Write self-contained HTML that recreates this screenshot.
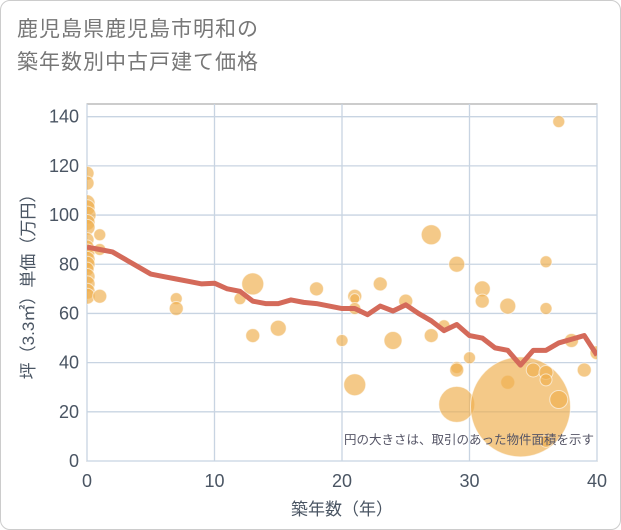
<!DOCTYPE html>
<html><head><meta charset="utf-8"><style>
body{margin:0;background:#fff;}
#wrap{position:relative;width:619px;height:528px;border:1px solid #ccc;border-radius:10px;overflow:hidden;font-family:"Liberation Sans","Noto Sans CJK JP",sans-serif;}
#title{position:absolute;left:16px;top:12px;font-size:21px;line-height:33px;color:#777;letter-spacing:1px;}
svg{position:absolute;left:0;top:0;}
</style></head><body>
<div id="wrap">
<div id="title">鹿児島県鹿児島市明和の<br>築年数別中古戸建て価格</div>
<svg id="chart" width="621" height="530"></svg>
</div>
<script>
const xTicks=[0,10,20,30,40];
const yTicks=[0,20,40,60,80,100,120,140];
const lineAges=[0,1,2,3,4,5,6,7,8,9,10,11,12,13,14,15,16,17,18,19,20,21,22,23,24,25,26,27,28,29,30,31,32,33,34,35,36,37,38,39,40];
const lineValues=[87,86,85,82,79,76,75,74,73,72,72.3,70,69,65,64,64,65.5,64.5,64,63,62,62,59.5,63,61,63.5,60,57,53,55.5,51,50,46,45,39,45,45,48,49.5,51,43];
const bubbleAges=[0,0,0,0,0,0,0,0,0,0,0,0,0,0,0,0,0,1,1,1,7,7,12,13,13,15,18,20,21,21,21,21,23,24,25,27,27,28,29,29,29,29,30,31,31,33,33,34,35,36,36,36,36,36,37,37,38,39,40];
const bubblePrices=[117,113,105,103,100,97,95,90,87,85,82,80,78,75,72,69,67,92,86,67,66,62,66,72,51,54,70,49,67,66,62,31,72,49,65,92,51,55,80,38,37,23,42,70,65,63,32,22,37,81,62,36,33,8,138,25,49,37,44];
const bubbleSizes=[7,7,8,8,9,8,8,7,7,8,8,8,7,8,8,8,8,6,6,7,6,7,6,11,7,8,7,6,7,5,6,11,7,9,7,10,7,6,8,6,7,18,6,8,7,8,7,50,7,6,6,7,6,6,6,9,7,7,7];
const NS="http://www.w3.org/2000/svg";
const svg=document.getElementById('chart');
const L=86,R=596,T=103,B=460,Y140=115.7;
const xs=v=>L+(v/40)*(R-L);
const ys=v=>B-(v/140)*(B-Y140);
function mk(t,a){const e=document.createElementNS(NS,t);for(const k in a)e.setAttribute(k,a[k]);svg.appendChild(e);return e;}
const bg=mk('rect',{x:L,y:T,width:R-L,height:B-T,fill:'#fff',stroke:'#999','stroke-width':1});


yTicks.forEach(t=>{
 const g=mk('line',{x1:L,x2:R,y1:ys(t),y2:ys(t),stroke:'#c8d4e2','stroke-width':1.3});
 
 
 const l=mk('text',{x:L-8,y:ys(t)+6,'text-anchor':'end','font-size':18,fill:'#4a5563'});
 l.textContent=t;
 
 
});
xTicks.forEach(t=>{
 const g=mk('line',{x1:xs(t),x2:xs(t),y1:T,y2:B,stroke:'#c8d4e2','stroke-width':1.3});
 
 
 const l=mk('text',{x:xs(t),y:B+26,'text-anchor':'middle','font-size':18,fill:'#4a5563'});
 l.textContent=t;
 
 
});
const clip=mk('clipPath',{id:'pc'});
const cr=document.createElementNS(NS,'rect');cr.setAttribute('x',L);cr.setAttribute('y',T);cr.setAttribute('width',R-L);cr.setAttribute('height',B-T);clip.appendChild(cr);
const gB=mk('g',{'clip-path':'url(#pc)'});


bubbleAges.forEach((a,i)=>{
 const c=document.createElementNS(NS,'circle');
 c.setAttribute('cx',xs(a));c.setAttribute('cy',ys(bubblePrices[i]));c.setAttribute('r',bubbleSizes[i]);
 c.setAttribute('fill','rgba(239,176,80,0.68)');c.setAttribute('stroke','rgba(255,255,255,0.6)');
 
 
 gB.appendChild(c);
});
const p=mk('polyline',{points:lineAges.map((a,i)=>xs(a)+','+ys(lineValues[i])).join(' '),fill:'none',stroke:'#d46a5a','stroke-width':5,'stroke-linejoin':'round','clip-path':'url(#pc)'});


const note=mk('text',{x:593,y:443,'text-anchor':'end','font-size':12.5,fill:'#556'});
note.textContent='円の大きさは、取引のあった物件面積を示す';


const xt=mk('text',{x:(L+R)/2,y:514,'text-anchor':'middle','font-size':17,fill:'#4a5563'});
xt.textContent='築年数（年）';


const yt=mk('text',{x:0,y:0,'text-anchor':'middle','font-size':17,fill:'#4a5563',transform:'translate(33,'+((T+B)/2)+') rotate(-90)'});
yt.textContent='坪（3.3㎡）単価（万円）';


</script>
</body></html>
